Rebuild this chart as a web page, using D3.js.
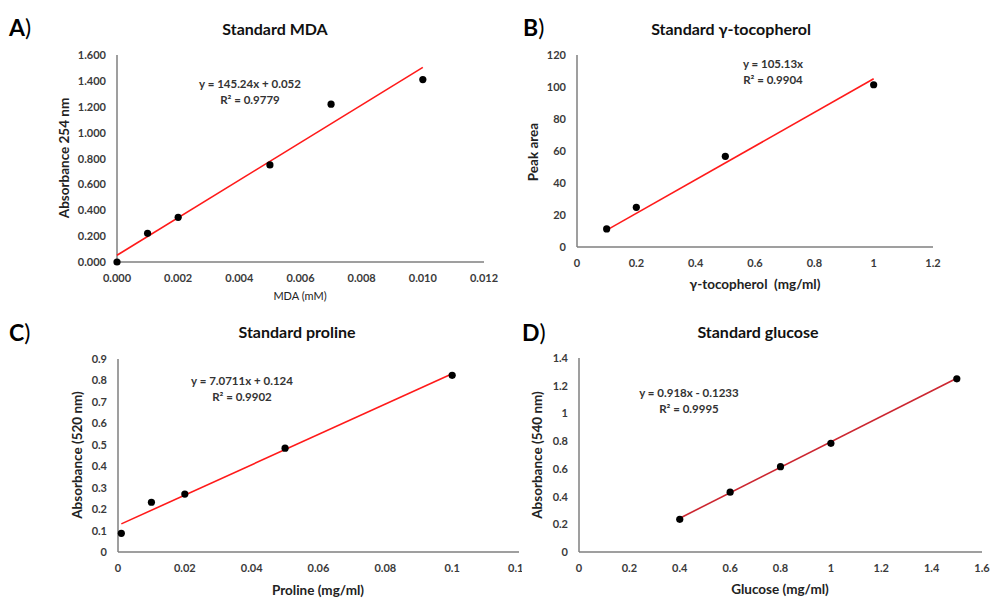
<!DOCTYPE html>
<html>
<head>
<meta charset="utf-8">
<script src="https://cdn.jsdelivr.net/npm/d3@7"></script>
<style>
  body { margin: 0; background: #fff; }
  svg { display: block; font-family: Lato, "Open Sans", sans-serif; }
  .tick-label { font-size: 11px; font-weight: bold; fill: #3a3a3a; }
  .axis-title { font-size: 13.5px; font-weight: bold; fill: #222; }
  .chart-title { font-size: 16px; font-weight: bold; fill: #111; }
  .eq { font-size: 11.5px; font-weight: bold; fill: #333; }
</style>
</head>
<body>
<div id="chart"></div>
<script>
// A) MDA
var mdaX = [0, 0.001, 0.002, 0.005, 0.007, 0.010];
var mdaY = [0, 0.222, 0.345, 0.75, 1.22, 1.41];
var mdaFit = [145.24, 0.052];
var mdaXTicks = [0, 0.002, 0.004, 0.006, 0.008, 0.010, 0.012];
var mdaYTicks = [0, 0.2, 0.4, 0.6, 0.8, 1.0, 1.2, 1.4, 1.6];

// B) gamma-tocopherol
var tocX = [0.1, 0.2, 0.5, 1];
var tocY = [11.3, 24.8, 56.7, 101.4];
var tocFit = [105.13, 0];
var tocXTicks = [0, 0.2, 0.4, 0.6, 0.8, 1, 1.2];
var tocYTicks = [0, 20, 40, 60, 80, 100, 120];

// C) proline
var proX = [0.001, 0.01, 0.02, 0.05, 0.1];
var proY = [0.087, 0.232, 0.27, 0.484, 0.824];
var proFit = [7.0711, 0.124];
var proXTicks = [0, 0.02, 0.04, 0.06, 0.08, 0.1, 0.12];
var proYTicks = [0, 0.1, 0.2, 0.3, 0.4, 0.5, 0.6, 0.7, 0.8, 0.9];

// D) glucose
var gluX = [0.4, 0.6, 0.8, 1, 1.5];
var gluY = [0.236, 0.432, 0.616, 0.784, 1.25];
var gluFit = [0.918, -0.1233];
var gluXTicks = [0, 0.2, 0.4, 0.6, 0.8, 1, 1.2, 1.4, 1.6];
var gluYTicks = [0, 0.2, 0.4, 0.6, 0.8, 1, 1.2, 1.4];

var svg = d3.select("#chart").append("svg")
    .attr("width", 992)
    .attr("height", 598);

svg.append("defs").append("clipPath")
    .attr("id", "clipC")
  .append("rect")
    .attr("x", 0).attr("y", 300).attr("width", 522).attr("height", 298);

var panels = [
  { tag: "A", title: "Standard MDA", xs: mdaX, ys: mdaY, fit: mdaFit,
    xt: mdaXTicks, yt: mdaYTicks, xfmt: d3.format(".3f"), yfmt: d3.format(".3f"),
    px: [117, 484], py: [262, 55], tagPos: [9, 36], titlePos: [275, 35],
    xlab: "MDA (mM)", xlabPos: [300, 300], xlabStyle: "small",
    ylab: "Absorbance 254 nm", ylabPos: [69, 158],
    eq: ["y = 145.24x + 0.052", "R\u00b2 = 0.9779"], eqPos: [250, 88], lineColor: "#ff1a1a" },
  { tag: "B", title: "Standard \u03b3-tocopherol", xs: tocX, ys: tocY, fit: tocFit,
    xt: tocXTicks, yt: tocYTicks, xfmt: String, yfmt: String,
    px: [577, 933], py: [247, 55], tagPos: [523, 36], titlePos: [731, 35],
    xlab: "\u03b3-tocopherol\u00a0 (mg/ml)", xlabPos: [755, 289],
    ylab: "Peak area", ylabPos: [538, 152],
    eq: ["y = 105.13x", "R\u00b2 = 0.9904"], eqPos: [773, 68], lineColor: "#ff1a1a" },
  { tag: "C", title: "Standard proline", xs: proX, ys: proY, fit: proFit,
    xt: proXTicks, yt: proYTicks, xfmt: String, yfmt: String,
    px: [118, 519], py: [552, 359], tagPos: [9, 341], titlePos: [297, 338],
    xlab: "Proline (mg/ml)", xlabPos: [318, 595],
    ylab: "Absorbance (520 nm)", ylabPos: [82, 455],
    eq: ["y = 7.0711x + 0.124", "R\u00b2 = 0.9902"], eqPos: [242, 385], lineColor: "#ff1a1a",
    clip: "url(#clipC)" },
  { tag: "D", title: "Standard glucose", xs: gluX, ys: gluY, fit: gluFit,
    xt: gluXTicks, yt: gluYTicks, xfmt: String, yfmt: String,
    px: [579, 982], py: [552, 358], tagPos: [522, 341], titlePos: [758, 338],
    xlab: "Glucose (mg/ml)", xlabPos: [780, 594],
    ylab: "Absorbance (540 nm)", ylabPos: [542, 455],
    eq: ["y = 0.918x - 0.1233", "R\u00b2 = 0.9995"], eqPos: [689, 397], lineColor: "#cc2630" }
];

panels.forEach(function(p) {
  var g = svg.append("g").attr("clip-path", p.clip || null);

  var x = d3.scaleLinear()
      .domain([p.xt[0], p.xt[p.xt.length - 1]])
      .range(p.px);
  var y = d3.scaleLinear()
      .domain([p.yt[0], p.yt[p.yt.length - 1]])
      .range(p.py);

  // panel letter
  var tag = g.append("text")
      .attr("x", p.tagPos[0])
      .attr("y", p.tagPos[1])
      .style("font-size", "23px")
      .style("fill", "#000");
  tag.append("tspan").style("font-weight", "bold").text(p.tag);
  tag.append("tspan").style("font-weight", "normal").text(")");

  g.append("text")
      .attr("class", "chart-title")
      .attr("x", p.titlePos[0])
      .attr("y", p.titlePos[1])
      .attr("text-anchor", "middle")
      .text(p.title);

  // axes lines
  g.append("line")
      .attr("x1", x.range()[0]).attr("x2", x.range()[1])
      .attr("y1", y(0)).attr("y2", y(0))
      .attr("stroke", "#7f7f7f").attr("stroke-width", 1.5);
  g.append("line")
      .attr("x1", x(0)).attr("x2", x(0))
      .attr("y1", y.range()[0]).attr("y2", y.range()[1])
      .attr("stroke", "#7f7f7f").attr("stroke-width", 1.5);

  // tick labels
  g.selectAll(".xt")
    .data(p.xt)
    .enter().append("text")
      .attr("class", "tick-label")
      .attr("x", x)
      .attr("y", y(0) + 20)
      .attr("text-anchor", "middle")
      .text(p.xfmt);
  g.selectAll(".yt")
    .data(p.yt)
    .enter().append("text")
      .attr("class", "tick-label")
      .attr("x", x(0) - 11)
      .attr("y", function(d) { return y(d) + 4; })
      .attr("text-anchor", "end")
      .text(p.yfmt);

  // axis titles
  g.append("text")
      .attr("class", "axis-title")
      .attr("x", p.xlabPos[0])
      .attr("y", p.xlabPos[1])
      .attr("text-anchor", "middle")
      .style("font-size", p.xlabStyle == "small" ? "11px" : null)
      .style("font-weight", p.xlabStyle == "small" ? "normal" : null)
      .text(p.xlab);
  g.append("text")
      .attr("class", "axis-title")
      .attr("transform", "translate(" + p.ylabPos[0] + "," + p.ylabPos[1] + ") rotate(-90)")
      .attr("text-anchor", "middle")
      .text(p.ylab);

  // trendline over the data range
  var ext = d3.extent(p.xs);
  var fitLine = d3.line()
      .x(function(d) { return x(d); })
      .y(function(d) { return y(p.fit[0] * d + p.fit[1]); });
  g.append("path")
      .attr("d", fitLine(ext))
      .attr("fill", "none")
      .attr("stroke", p.lineColor)
      .attr("stroke-width", 1.6);

  // points
  g.selectAll(".pt")
    .data(p.xs)
    .enter().append("circle")
      .attr("cx", x)
      .attr("cy", function(d, i) { return y(p.ys[i]); })
      .attr("r", 3.6)
      .attr("fill", "#000");

  // equation
  g.selectAll(".eq")
    .data(p.eq)
    .enter().append("text")
      .attr("class", "eq")
      .attr("x", p.eqPos[0])
      .attr("y", function(d, i) { return p.eqPos[1] + i * 16; })
      .attr("text-anchor", "middle")
      .text(function(d) { return d; });
});
</script>
</body>
</html>
